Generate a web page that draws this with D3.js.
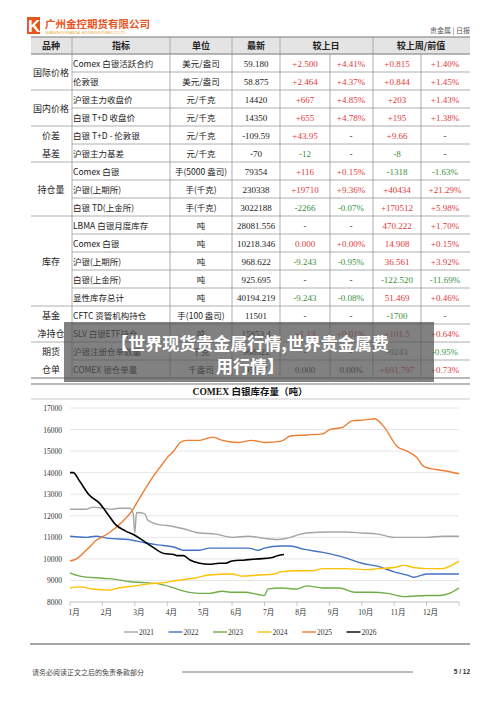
<!DOCTYPE html><html><head><meta charset="utf-8">
<script src="https://cdn.jsdelivr.net/npm/d3@7"></script>
<style>body{margin:0;background:#fff}</style></head><body><svg id="c" width="500" height="707"></svg>
<script>
const headers=["品种","指标","单位","最新","较上日","较上周/前值"];
const groups=[["国际价格",0,2],["国内价格",2,4],["价差|基差",4,6],["持仓量",6,9],["库存",9,14],["基金|净持仓",14,16],["期货|仓单",16,18]];
const rows=[
["Comex 白银活跃合约","美元/盎司","59.180","+2.500","+4.41%","+0.815","+1.40%"],
["伦敦银","美元/盎司","58.875","+2.464","+4.37%","+0.844","+1.45%"],
["沪银主力收盘价","元/千克","14420","+667","+4.85%","+203","+1.43%"],
["白银 T+D 收盘价","元/千克","14350","+655","+4.78%","+195","+1.38%"],
["白银 T+D -  伦敦银","元/千克","-109.59","+43.95","-","+9.66","-"],
["沪银主力基差","元/千克","-70","-12","-","-8","-"],
["Comex 白银","手(5000 盎司)","79354","+116","+0.15%","-1318","-1.63%"],
["沪银(上期所)","手(千克)","230338","+19710","+9.36%","+40434","+21.29%"],
["白银 TD(上金所)","手(千克)","3022188","-2266","-0.07%","+170512","+5.98%"],
["LBMA 白银月度库存","吨","28081.556","-","-","470.222","+1.70%"],
["Comex 白银","吨","10218.346","0.000","+0.00%","14.908","+0.15%"],
["沪银(上期所)","吨","968.622","-9.243","-0.95%","36.561","+3.92%"],
["白银(上金所)","吨","925.695","-","-","-122.520","-11.69%"],
["显性库存总计","吨","40194.219","-9.243","-0.08%","51.469","+0.46%"],
["CFTC 资管机构持仓","手(100 盎司)","11501","-","-","-1700","-"],
["SLV 白银ETF持仓","吨","15853.4","+1.13","+0.01%","+101.5","+0.64%"],
["沪银注册仓单数量","千克","968622","-","-","-9243","-0.95%"],
["COMEX 银仓单量","千盎司","95617","0.000","0.00%","+691.797","+0.73%"]];
const redPlain=new Set(["470.222","14.908","36.561","51.469"]);
const months=["1月","2月","3月","4月","5月","6月","7月","8月","9月","10月","11月","12月"];
const yTicks=[8000,9000,10000,11000,12000,13000,14000,15000,16000,17000];
const years=["2021","2022","2023","2024","2025","2026"];
const colors=["#a5a5a5","#4472c4","#70ad47","#ffc000","#ed7d31","#000000"];
const s2021=[[1,12300],[1.5,12300],[1.7,12400],[2,12350],[2.3,12300],[2.5,12350],[2.85,12350],[2.95,12100],[3.0,11200],[3.05,12150],[3.3,12100],[3.4,11800],[3.7,11600],[4,11550],[4.5,11400],[5,11200],[5.5,11150],[6,11000],[6.5,11050],[7,10950],[7.4,10900],[7.8,11000],[8,11100],[8.3,11200],[9,11250],[9.5,11250],[10,11200],[10.5,11150],[11,11000],[11.5,11000],[12,11000],[12.5,11050],[13,11050]];
const s2022=[[1,11050],[1.5,11000],[1.8,11050],[2.2,10950],[2.8,10900],[3.3,10750],[3.7,10650],[4.2,10550],[4.5,10400],[5,10400],[5.3,10500],[6,10500],[6.5,10500],[6.8,10400],[7,10500],[7.5,10600],[7.8,10600],[8.2,10450],[8.8,10300],[9.5,10050],[10,9800],[10.5,9650],[11,9400],[11.4,9250],[11.6,9150],[12,9300],[12.5,9300],[13,9300]];
const s2023=[[1,9350],[1.3,9200],[2,9100],[2.4,9050],[2.8,8950],[3.3,8900],[3.7,8850],[4.1,8700],[4.4,8550],[5,8400],[5.3,8400],[5.7,8500],[6,8450],[6.4,8450],[6.8,8350],[7,8300],[7.1,8600],[7.5,8650],[8,8600],[8.3,8750],[8.8,8650],[9.3,8650],[9.8,8450],[10.3,8450],[10.8,8400],[11.3,8250],[12,8300],[12.4,8300],[12.7,8400],[13,8650]];
const s2024=[[1,8650],[1.3,8700],[1.7,8600],[2.2,8550],[2.5,8650],[3,8750],[3.5,8850],[3.9,8900],[4.3,9000],[4.8,9100],[5.3,9250],[6,9300],[6.3,9200],[6.8,9250],[7.3,9300],[7.5,9400],[8,9450],[8.5,9450],[8.8,9550],[9.5,9550],[10.2,9500],[10.5,9550],[11,9600],[11.3,9700],[11.6,9600],[12,9550],[12.5,9550],[12.7,9650],[13,9900]];
const s2025=[[1,9900],[1.2,10000],[1.5,10400],[1.8,10850],[2.2,11200],[2.6,11700],[2.9,12200],[3.1,12700],[3.3,13200],[3.6,13900],[3.85,14400],[4,14700],[4.2,15000],[4.4,15400],[4.6,15500],[5,15500],[5.4,15650],[5.7,15500],[6.2,15400],[6.6,15500],[7,15400],[7.5,15450],[7.8,15700],[8.3,15750],[8.8,15800],[9,16000],[9.4,16100],[9.7,16400],[10.1,16450],[10.4,16500],[10.7,16100],[11.1,15200],[11.4,15000],[11.7,14700],[11.9,14300],[12.1,14200],[12.5,14100],[13,13950]];
const s2026=[[1,14000],[1.1,14000],[1.3,13600],[1.6,12950],[1.9,12600],[2.2,12000],[2.4,11600],[2.7,11300],[3,11100],[3.3,10800],[3.6,10500],[3.9,10250],[4.2,10200],[4.3,10150],[4.5,10150],[4.7,9950],[5,9800],[5.3,9750],[5.6,9800],[5.8,9800],[6,9900],[6.4,9950],[6.8,10000],[7.2,10050],[7.4,10150],[7.6,10200]];
const series=[s2021,s2022,s2023,s2024,s2025,s2026];

const svg=d3.select("#c");
const CJK="'Noto Sans CJK SC',sans-serif", SER="'Liberation Serif',serif";
svg.append("path").attr("d","M27,17h13v17h-13z").attr("fill","#e8541e");
svg.append("text").attr("x",28).attr("y",32).text("K").attr("font-family","Liberation Sans").attr("font-weight","bold").attr("font-size",17).attr("fill","#fff");
svg.append("text").attr("x",45).attr("y",28).text("广州金控期货有限公司").attr("font-family",CJK).attr("font-weight","bold").attr("font-size",10.5).attr("fill","#e8541e");
svg.append("text").attr("x",45).attr("y",34).text("GUANGZHOU FINANCIAL HOLDINGS FUTURES CO.,LTD").attr("font-family","Liberation Sans").attr("font-size",3).attr("fill","#e8a01e");
svg.append("text").attr("x",470).attr("y",33).attr("text-anchor","end").text("贵金属 | 日报").attr("font-family",CJK).attr("font-size",7).attr("fill","#555");
const colX=[31,72,170,232,280,330,373,421,470];
const T0=37,hh=17,rh=18;
svg.append("rect").attr("x",31).attr("y",T0).attr("width",439).attr("height",hh).attr("fill","#e4e4e4");
const hc=[51,121,201,256,326,421];
headers.forEach((h,i)=>svg.append("text").attr("x",hc[i]).attr("y",T0+12).attr("text-anchor","middle").text(h).attr("font-family",CJK).attr("font-weight","bold").attr("font-size",9).attr("fill","#222"));
const ry=i=>T0+hh+i*rh;
const line=(x1,y1,x2,y2,w,c)=>svg.append("line").attr("x1",x1).attr("y1",y1).attr("x2",x2).attr("y2",y2).attr("stroke",c||"#999").attr("stroke-width",w||0.8);
line(31,T0,470,T0,1.2,"#777");line(31,T0+hh,470,T0+hh,1.2,"#777");
const gStart=new Set(groups.map(g=>g[1]));
for(let i=1;i<=rows.length;i++){const last=i==rows.length;line(gStart.has(i)||last?31:72,ry(i),470,ry(i),last?1.2:0.8,last?"#777":"#999");}
colX.slice(1,-1).forEach((x)=>{const half=(x==330||x==421);line(x,half?T0+hh:T0,x,ry(rows.length));});
const col=(v,i)=>v.startsWith("+")||redPlain.has(v)||(v=="0.000"&&i==10)?"#e03a3a":(v.startsWith("-")&&v.length>1?"#3a8f3a":"#333");
rows.forEach((r,i)=>{const y=ry(i)+12.5;
 svg.append("text").attr("x",73).attr("y",y).text(r[0]).attr("font-family",CJK).attr("font-size",8.5).attr("fill","#222");
 svg.append("text").attr("x",201).attr("y",y).attr("text-anchor","middle").text(r[1]).attr("font-family",CJK).attr("font-size",8.5).attr("fill","#222");
 svg.append("text").attr("x",256).attr("y",y).attr("text-anchor","middle").text(r[2]).attr("font-family",SER).attr("font-size",9).attr("fill","#222");
 [305,351,397,445].forEach((x,k)=>svg.append("text").attr("x",x).attr("y",y).attr("text-anchor","middle").text(r[3+k]).attr("font-family",SER).attr("font-size",9).attr("fill",col(r[3+k],i)));
});
groups.forEach(g=>{const parts=g[0].split("|");
 if(parts.length==1){svg.append("text").attr("x",51).attr("y",(ry(g[1])+ry(g[2]))/2+3.5).attr("text-anchor","middle").text(parts[0]).attr("font-family",CJK).attr("font-size",9).attr("fill","#222");}
 else parts.forEach((p,k)=>svg.append("text").attr("x",51).attr("y",ry(g[1]+k)+12.5).attr("text-anchor","middle").text(p).attr("font-family",CJK).attr("font-size",9).attr("fill","#222"));
});
line(31,384,470,384,1.2,"#777");
svg.append("text").attr("x",250).attr("y",395).attr("text-anchor","middle").text("COMEX 白银库存量（吨）").attr("font-family",SER+","+CJK).attr("font-weight","bold").attr("font-size",9.5).attr("fill","#111");
line(31,399,470,399,0.8,"#bbb");
const x=d3.scaleLinear().domain([1,13]).range([70,459]);
const y=d3.scaleLinear().domain([8000,17000]).range([602,408]);
yTicks.forEach(t=>{line(70,y(t),459,y(t),0.8,"#e0e0e0");
 svg.append("text").attr("x",62).attr("y",y(t)+3).attr("text-anchor","end").text(t).attr("font-family",SER).attr("font-size",7.5).attr("fill","#333");});
line(70,602,459,602,0.8,"#bbb");
months.forEach((m,i)=>{line(x(i+1),602,x(i+1),606,0.8,"#bbb");
 svg.append("text").attr("x",x(i+1)+4).attr("y",615).attr("text-anchor","middle").text(m).attr("font-family",SER+","+CJK).attr("font-size",7.5).attr("fill","#333");});
line(x(13),602,x(13),606,0.8,"#bbb");
const lg=d3.line().x(d=>x(d[0])).y(d=>y(d[1])).curve(d3.curveMonotoneX);
series.forEach((s,i)=>svg.append("path").attr("d",lg(s)).attr("fill","none").attr("stroke",colors[i]).attr("stroke-width",i==5?1.6:1.4));
years.forEach((yr,i)=>{const lx=124+i*44.5;
 line(lx,632,lx+14,632,1.4,colors[i]);
 svg.append("text").attr("x",lx+15).attr("y",635).text(yr).attr("font-family",SER).attr("font-size",7.5).attr("fill","#333");});
line(30,644,470,644,1.3,"#888");
svg.append("text").attr("x",32).attr("y",675).text("请务必阅读正文之后的免责条款部分").attr("font-family",CJK).attr("font-size",7).attr("fill","#444");
line(182,672,413,672,0.8,"#555");
svg.append("text").attr("x",470).attr("y",674).attr("text-anchor","end").text("5  /  12").attr("font-family","Liberation Sans").attr("font-weight","bold").attr("font-size",6.5).attr("fill","#333");
svg.append("rect").attr("x",64).attr("y",322).attr("width",370).attr("height",60).attr("fill","rgba(80,80,80,0.72)");
[["【世界现货贵金属行情,世界贵金属费",350],["用行情】",373]].forEach(t=>svg.append("text").attr("x",250).attr("y",t[1]).attr("text-anchor","middle").text(t[0]).attr("font-family",CJK).attr("font-weight","bold").attr("font-size",17).attr("fill","#fff"));
</script></body></html>
